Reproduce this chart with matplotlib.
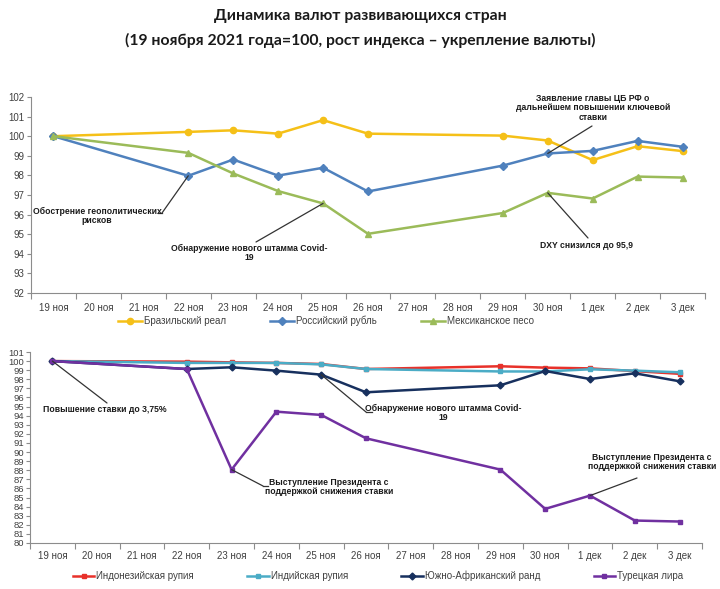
import numpy as np
import matplotlib
matplotlib.use("Agg")
import matplotlib.pyplot as plt
from matplotlib.lines import Line2D

plt.rcParams['font.family'] = ['Liberation Sans', 'DejaVu Sans']

categories = ["19 ноя", "20 ноя", "21 ноя", "22 ноя", "23 ноя", "24 ноя", "25 ноя",
              "26 ноя", "27 ноя", "28 ноя", "29 ноя", "30 ноя", "1 дек", "2 дек", "3 дек"]
# trading days only (weekends without data)
nan = np.nan
brl = [100.0, nan, nan, 100.22, 100.3, 100.13, 100.82, 100.13, nan, nan, 100.03, 99.78, 98.78, 99.49, 99.24]
rub = [100.0, nan, nan, 97.98, 98.81, 97.99, 98.39, 97.18, nan, nan, 98.5, 99.12, 99.25, 99.76, 99.46]
mxn = [100.0, nan, nan, 99.15, 98.1, 97.2, 96.57, 95.02, nan, nan, 96.08, 97.11, 96.82, 97.94, 97.89]

idr = [100.0, nan, nan, 99.94, 99.86, 99.8, 99.68, 99.13, nan, nan, 99.43, 99.28, 99.2, 98.9, 98.6]
inr = [100.0, nan, nan, 99.8, 99.8, 99.8, 99.64, 99.13, nan, nan, 98.86, 98.86, 99.1, 98.95, 98.77]
zar = [100.0, nan, nan, 99.13, 99.32, 98.95, 98.51, 96.57, nan, nan, 97.34, 98.91, 98.03, 98.66, 97.78]
tryl = [100.0, nan, nan, 99.13, 88.07, 94.44, 94.08, 91.51, nan, nan, 88.07, 83.75, 85.21, 82.47, 82.36]

title1 = "Динамика валют развивающихся стран"
title2 = "(19 ноября 2021 года=100, рост индекса – укрепление валюты)"

W, H = 720, 589
fig = plt.figure(figsize=(W / 100, H / 100), dpi=100)


def fp(x, y):
    return (x / W, 1 - y / H)


fig.text(*fp(360, 16), title1, ha='center', va='center', fontsize=11.3,
         fontweight='bold', family=['Lato', 'DejaVu Sans'], color='#1a1a1a')
fig.text(*fp(360, 40), title2, ha='center', va='center', fontsize=11.3,
         fontweight='bold', family=['Lato', 'DejaVu Sans'], color='#1a1a1a')

gray = '#8c8c8c'
tickc = '#404040'


def style_axes(ax, ymin, ymax, yfs, xpad):
    n = len(categories)
    ax.set_xlim(-0.5, n - 0.5)
    ax.set_ylim(ymin, ymax)
    ax.set_yticks(np.arange(ymin, ymax + 1, 1))
    ax.set_xticks(np.arange(n))
    ax.set_xticklabels(categories)
    ax.set_xticks(np.arange(-0.5, n, 1), minor=True)
    ax.tick_params(axis='x', which='major', length=0, pad=xpad, labelsize=7, labelcolor=tickc)
    ax.tick_params(axis='x', which='minor', length=4, color=gray, width=0.8)
    ax.tick_params(axis='y', length=3, color=gray, width=0.8, labelsize=yfs, labelcolor=tickc, pad=2)
    for s in ['top', 'right']:
        ax.spines[s].set_visible(False)
    for s in ['left', 'bottom']:
        ax.spines[s].set_color(gray)
        ax.spines[s].set_linewidth(0.8)


def plot_series(ax, vals, color, marker, ms, label):
    x = np.arange(len(categories))
    v = np.array(vals, dtype=float)
    m = ~np.isnan(v)
    ax.plot(x[m], v[m], color=color, lw=1.8, marker=marker, ms=ms, label=label,
            markeredgecolor=color, markerfacecolor=color)


# ---------- top chart ----------
ax1 = fig.add_axes([31 / W, 1 - 293 / H, 674 / W, 196 / H])
style_axes(ax1, 92, 102, 7, 7)
plot_series(ax1, brl, '#F5C018', 'o', 4.5, 'Бразильский реал')
plot_series(ax1, rub, '#4F81BD', 'D', 3.8, 'Российский рубль')
plot_series(ax1, mxn, '#9BBB59', '^', 5, 'Мексиканское песо')

leg1 = ax1.legend(loc='center', bbox_to_anchor=fp(326, 321), bbox_transform=fig.transFigure,
                  ncol=3, frameon=False, fontsize=7, handlelength=2.5, columnspacing=4.5,
                  handletextpad=0.2)
for t in leg1.get_texts():
    t.set_color(tickc)

afs = 6.2
acol = '#1a1a1a'


def note(ax, text, tx, ty, lx, ly, xi, yv, hook=None):
    fig.text(*fp(tx, ty), text, ha='center', va='center', fontsize=afs,
             fontweight='bold', color=acol, linespacing=1.05)
    ax.annotate('', xy=(xi, yv), xycoords='data', xytext=fp(lx, ly),
                textcoords='figure fraction',
                arrowprops=dict(arrowstyle='-', color='#333333', lw=0.9,
                                shrinkA=0, shrinkB=0))
    if hook is not None:
        ax.add_line(Line2D([lx / W, hook / W], [1 - ly / H, 1 - ly / H],
                           transform=fig.transFigure, color='#333333', lw=0.9))


note(ax1, "Обострение геополитических\nрисков", 97, 216, 162, 213, 3, rub[3], hook=158)
note(ax1, "Обнаружение нового штамма Covid-\n19", 249, 253, 256, 242, 6, mxn[6])
note(ax1, "Заявление главы ЦБ РФ о\nдальнейшем повышении ключевой\nставки", 593, 108,
     592, 126, 11, rub[11])
note(ax1, "DXY снизился до 95,9", 587, 246, 588, 238, 11, mxn[11])

# ---------- bottom chart ----------
ax2 = fig.add_axes([30 / W, 1 - 543 / H, 672 / W, 191 / H])
style_axes(ax2, 80, 101, 6.8, 6)
ax2.tick_params(axis='y', pad=1)
plot_series(ax2, idr, '#E8312A', 's', 3.5, 'Индонезийская рупия')
plot_series(ax2, inr, '#4BACC6', 's', 3.5, 'Индийская рупия')
plot_series(ax2, zar, '#17305E', 'D', 3.5, 'Южно-Африканский ранд')
plot_series(ax2, tryl, '#7030A0', 's', 3.5, 'Турецкая лира')

leg2 = ax2.legend(loc='center', bbox_to_anchor=fp(378, 576), bbox_transform=fig.transFigure,
                  ncol=4, frameon=False, fontsize=7, handlelength=2.2, columnspacing=5.5,
                  handletextpad=0.2)
for t in leg2.get_texts():
    t.set_color(tickc)

note(ax2, "Повышение ставки до 3,75%", 105, 410, 107, 403, 0, tryl[0])
note(ax2, "Выступление Президента с\nподдержкой снижения ставки", 329, 487, 263, 486,
     4, tryl[4], hook=268)
note(ax2, "Обнаружение нового штамма Covid-\n19", 443, 413, 366, 412, 6, zar[6], hook=372)
note(ax2, "Выступление Президента с\nподдержкой снижения ставки", 652, 462, 637, 478,
     12, tryl[12])

fig.savefig("out.png", dpi=100)
